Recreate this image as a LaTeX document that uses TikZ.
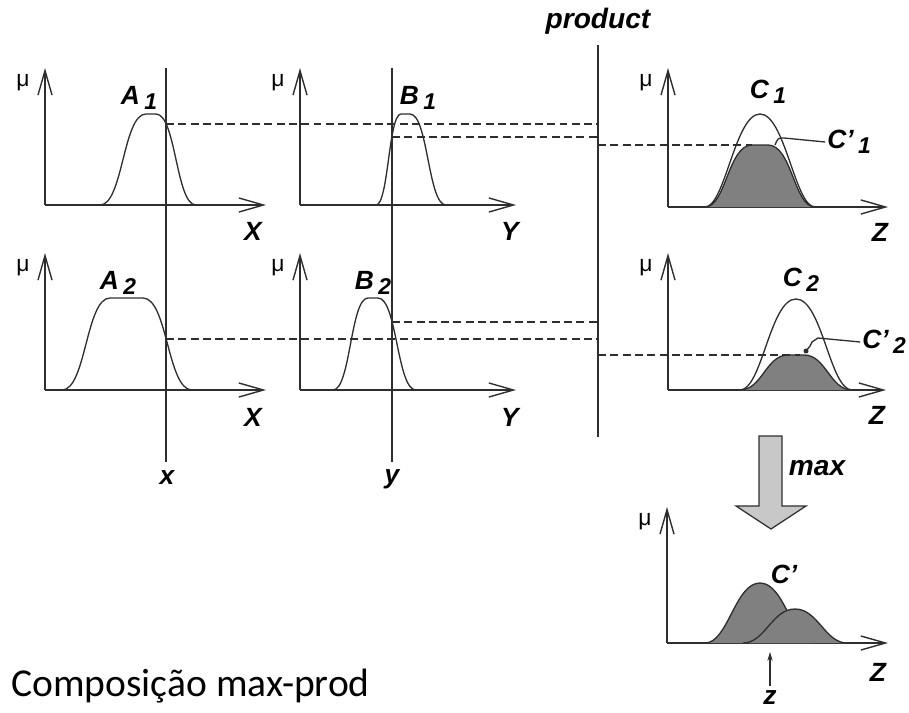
\documentclass[tikz,border=0pt]{standalone}
\usepackage{fontspec}
\setmainfont{Liberation Sans}
\newfontfamily\carlito{Carlito}
\usetikzlibrary{positioning, arrows.meta}
\definecolor{mfLine}{HTML}{2E2E2E}
\definecolor{mfShade}{HTML}{808080}
\definecolor{maxGrey}{HTML}{C8C8C8}
\newcommand{\lab}[2]{#1\kern2.5pt\raisebox{-0.35ex}{\fontsize{13}{14}\selectfont #2}}

\begin{document}
\begin{tikzpicture}[x=0.02cm, y=-0.02cm,
    axis/.style={mfLine, line width=0.8pt, -{Straight Barb[length=14pt,width=8pt]}},
    mf/.style={mfLine, line width=0.75pt},
    shade/.style={fill=mfShade, draw=mfLine, line width=0.75pt},
    level/.style={mfLine, line width=0.6pt, dash pattern=on 4.5pt off 2.5pt},
    lbl/.style={font=\fontsize{15}{17}\selectfont\bfseries\itshape, inner sep=1pt},
    mu/.style={font=\fontsize{13}{14}\selectfont, inner sep=1pt}]
    \useasboundingbox (0,0) rectangle (909,713);
    % axes of the seven panels
    \foreach \ox/\oy/\xe/\yt/\nm in {45/205/266/68/a1, 300/205/516/68/b1, 668/207/888/68/c1,
        45/390/266/253/a2, 300/390/516/253/b2, 668/390/886/253/c2, 667/643/888/507/cc} {
      \draw[axis] (\ox,\oy) -- (\ox,\yt);
      \draw[axis] (\ox,\oy) -- (\xe,\oy);
      \node[mu] (mu\nm) at (\ox-22,\yt+15) {μ};
    }
    \node[lbl] (ax1) at (253,231) {X};
    \node[lbl] (ax2) at (510,231) {Y};
    \node[lbl] (ax3) at (880,232) {Z};
    \node[lbl] (ax4) at (253,417) {X};
    \node[lbl] (ax5) at (510,417) {Y};
    \node[lbl] (ax6) at (877,415) {Z};
    \node[lbl] (ax7) at (878,672) {Z};

    % membership functions
    \draw[mf] (100,205) .. controls (123,205) and (123,114) .. (146,114) -- (156,114)
      .. controls (176,114) and (176,205) .. (196,205);
    \draw[mf] (376,205) .. controls (388.5,205) and (388.5,114) .. (401,114) -- (410,114)
      .. controls (428,114) and (428,205) .. (446,205);
    \draw[mf] (62,390) .. controls (86,390) and (86,298) .. (110,298) -- (143,298)
      .. controls (167.5,298) and (167.5,390) .. (192,390);
    \draw[mf] (333,390) .. controls (350.5,390) and (350.5,298) .. (368,298) -- (378,298)
      .. controls (397,298) and (397,390) .. (416,390);
    \node[lbl] (A1) at (139,98) {\lab{A}{1}};
    \node[lbl] (B1) at (418,98) {\lab{B}{1}};
    \node[lbl] (A2) at (118,283) {\lab{A}{2}};
    \node[lbl] (B2) at (373,283) {\lab{B}{2}};

    % consequents
    \draw[shade] (705,207) .. controls (726,207) and (728,145) .. (752,145) -- (768,145)
      .. controls (792,145) and (794,207) .. (815,207);
    \draw[mf] (705,207) .. controls (725,207) and (735,114) .. (760,114)
      .. controls (785,114) and (795,207) .. (815,207);
    \draw[shade] (740,390) .. controls (762,390) and (766,355) .. (788,355) -- (804,355)
      .. controls (826,355) and (830,390) .. (852,390);
    \draw[mf] (740,390) .. controls (762,390) and (770,299) .. (796,299)
      .. controls (822,299) and (830,390) .. (852,390);
    \node[lbl] (C1) at (768,92) {\lab{C}{1}};
    \node[lbl] (C2) at (801,280) {\lab{C}{2}};
    \node[lbl] (C1p) at (849,142) {\lab{C’}{1}};
    \node[lbl] (C2p) at (884,342) {\lab{C’}{2}};
    \coordinate (c1top) at (775,145);
    \coordinate (c2top) at (806,351);
    \draw[mf] (c1top) .. controls (778,138) .. (784,138) -- (C1p.west);
    \fill[mfLine] (c2top) circle (2.5);
    \draw[mf] (c2top) -- (810,346) -- (812,342) -- (818,338) -- (C2p.west);

    % input lines and product
    \coordinate (xtop) at (166,68);
    \coordinate (xbot) at (166,462);
    \coordinate (ytop) at (392,68);
    \coordinate (ybot) at (392,462);
    \coordinate (ptop) at (598,45);
    \coordinate (pbot) at (598,437);
    \draw[mf] (xtop) -- (xbot);
    \draw[mf] (ytop) -- (ybot);
    \draw[mf] (ptop) -- (pbot);
    \node[lbl] (xin) at (167,478) {x};
    \node[lbl] (yin) at (392,479) {y};
    \node[lbl, font=\fontsize{16}{18}\selectfont\bfseries\itshape] (prod) at (598,21) {product};

    % levels
    \coordinate (a1cut) at (166,124);
    \coordinate (b1cut) at (392,137);
    \coordinate (a2cut) at (166,339);
    \coordinate (b2cut) at (392,322);
    \draw[level] (a1cut) -- (a1cut -| ptop);
    \draw[level] (b1cut) -- (b1cut -| ptop);
    \draw[level] (a2cut) -- (a2cut -| ptop);
    \draw[level] (b2cut) -- (b2cut -| ptop);
    \coordinate (p1) at (598,145);
    \coordinate (p2) at (598,355);
    \draw[level] (p1) -- (752,145);
    \draw[level] (p2) -- (800,355);

    % max aggregation
    \draw[mfLine, fill=maxGrey, line width=0.7pt] (759,436) -- (782,436) -- (782,506) -- (806,506)
      -- (771,529) -- (736,506) -- (759,506) -- cycle;
    \node[lbl, font=\fontsize{16}{18}\selectfont\bfseries\itshape] (max) at (817,468) {max};
    \draw[shade] (705,643) .. controls (728,643) and (735,583) .. (760,583)
      .. controls (785,583) and (792,643) .. (815,643);
    \draw[shade] (743,643) .. controls (765,643) and (772,609) .. (795,609)
      .. controls (818,609) and (825,643) .. (847,643);
    \node[lbl] (Cp) at (784,574) {C’};
    \node[lbl] (zout) at (770,698) {z};
    \draw[mfLine, line width=0.7pt, -{Stealth[length=5pt,width=3pt]}] (770,686) -- (770,652);

    \node[anchor=base west, inner sep=0pt, font=\carlito\fontsize{22.5}{26}\selectfont] (title)
      at (11,696) {Composição max-prod};
  \end{tikzpicture}
\end{document}
